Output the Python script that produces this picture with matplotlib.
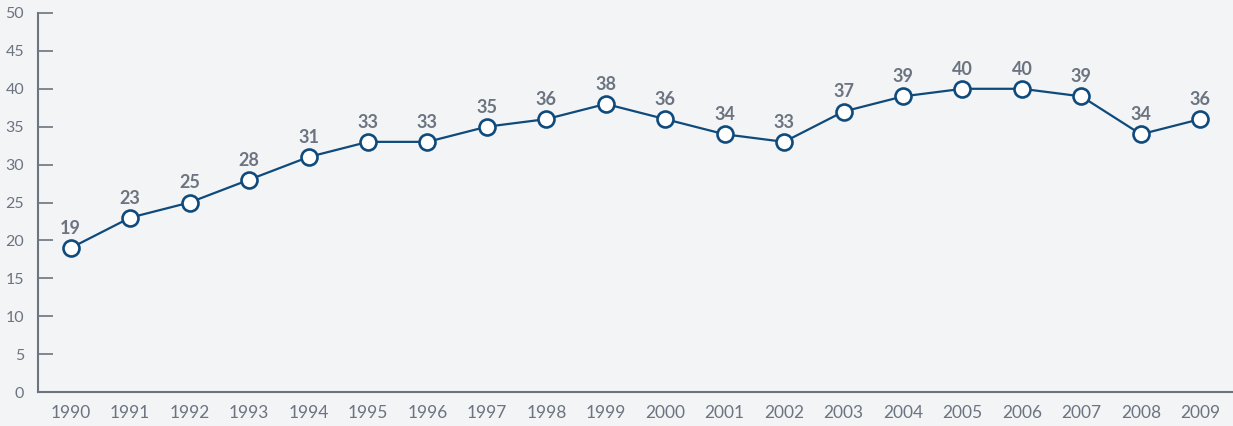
import numpy as np
import matplotlib
matplotlib.use("Agg")
import matplotlib.pyplot as plt

years = list(range(1990, 2010))
values = [19, 23, 25, 28, 31, 33, 33, 35, 36, 38, 36, 34, 33, 37, 39, 40, 40, 39, 34, 36]
yticks = [0, 5, 10, 15, 20, 25, 30, 35, 40, 45, 50]

bg = '#f3f4f6'
gray = '#6b7480'
blue = '#0e4a7b'

plt.rcParams['font.family'] = ['Lato', 'DejaVu Sans']

fig = plt.figure(figsize=(12.33, 4.26), dpi=100, facecolor=bg)
ax = fig.add_axes([38/1233, 34/426, 1 - 38/1233, (392 - 13)/426])
ax.set_facecolor(bg)

ax.plot(years, values, color=blue, lw=1.6, marker='o', ms=11.5,
        mfc='white', mec=blue, mew=1.9, zorder=3, clip_on=False)

for x, v in zip(years, values):
    ax.annotate(str(v), (x, v), xytext=(0, 8), textcoords='offset points',
                ha='center', va='bottom', fontsize=13, fontweight='bold', color=gray)

ax.set_xlim(1989.45, 2009.55)
ax.set_ylim(0, 50)
ax.set_xticks(years)
ax.set_yticks(yticks)

for s in ['top', 'right']:
    ax.spines[s].set_visible(False)
for s in ['left', 'bottom']:
    ax.spines[s].set_color(gray)
    ax.spines[s].set_linewidth(1.5)

ax.tick_params(axis='y', direction='in', length=11, width=1.2, color=gray,
               labelcolor=gray, labelsize=11.5, pad=10)
ax.tick_params(axis='x', length=0, labelcolor=gray, labelsize=12.5, pad=9)

fig.savefig('out.png', dpi=100, facecolor=bg)
